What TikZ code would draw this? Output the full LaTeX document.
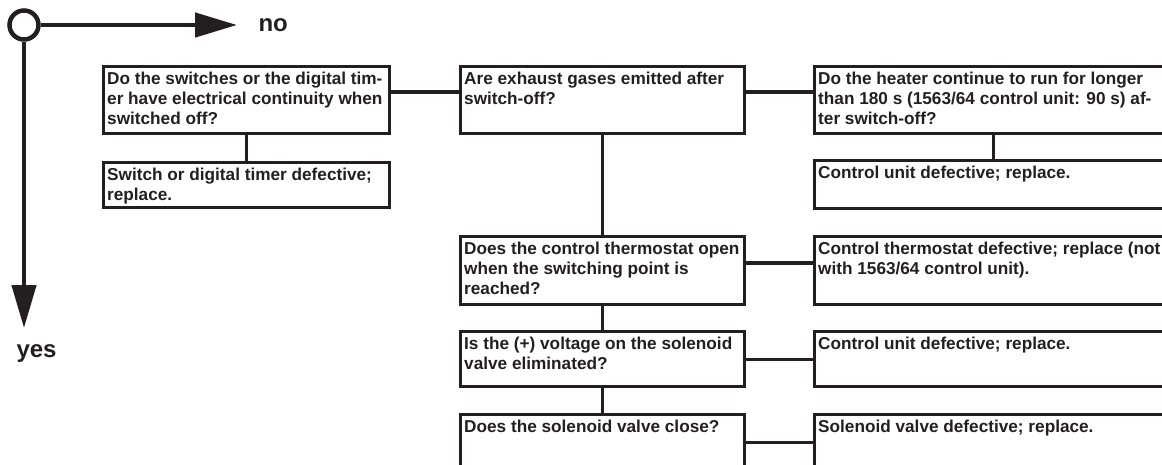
\documentclass[tikz,border=0pt]{standalone}
\usepackage{fontspec}
\setmainfont{Liberation Sans}
\usetikzlibrary{arrows.meta}
\definecolor{ink}{HTML}{231F20}

\begin{document}
\begin{tikzpicture}[x=1pt, y=-1pt, line join=miter,
  frame/.style={draw=ink, line width=3.1pt, anchor=north west, inner sep=0pt},
  label/.style={anchor=north west, inner sep=0pt, align=left, text=ink,
                font=\bfseries\fontsize{17.2}{20}\selectfont},
  link/.style={draw=ink, line width=3.1pt},
  legend/.style={draw=ink, line width=4.5pt},
  legendtext/.style={text=ink, font=\bfseries\fontsize{24}{28}\selectfont}]

\useasboundingbox (0,0) rectangle (1162,464);
\clip (0,0) rectangle (1162,464);

% legend: start circle with "no" to the right and "yes" downwards
\node[circle, draw=ink, line width=4.5pt, minimum size=29pt, inner sep=0pt] (start) at (24,25) {};
\coordinate (notip) at (237,25);
\coordinate (yestip) at (24,328);
\draw[legend, -{Triangle[length=42pt, width=24pt]}] (start.east) -- (notip);
\draw[legend, -{Triangle[length=43pt, width=24pt]}] (start.south) -- (yestip);
\node[legendtext, anchor=west] (no) at (255,25) {no};
\node[legendtext, anchor=north west] (yes) at (13,341) {yes};

% boxes: (left, top), width x height
\newcommand\chartbox[6]{%
  \node[frame, minimum width=#4pt, minimum height=#5pt] (#1) at (#2,#3) {};
  \node[label] (#1t) at ([xshift=5pt, yshift=-7pt]#1.north west) {#6};}

\chartbox{b1}{102}{65}{286}{67}{Do the switches or the digital tim-\\er have electrical continuity when\\switched off?}
\chartbox{b2}{102}{161}{286}{45}{Switch or digital timer defective;\\replace.}
\chartbox{b3}{459}{65}{284}{67}{Are exhaust gases emitted after\\switch-off?}
\chartbox{b4}{813}{65}{358}{67}{Do the heater continue to run for longer\\than 180 s (1563/64 control unit: 90 s) af-\\ter switch-off?}
\chartbox{b5}{813}{159}{358}{48}{Control unit defective; replace.}
\chartbox{b6}{459}{235}{284}{68}{Does the control thermostat open\\when the switching point is\\reached?}
\chartbox{b7}{459}{330}{284}{55}{Is the (+) voltage on the solenoid\\valve eliminated?}
\chartbox{b8}{459}{413}{284}{56}{Does the solenoid valve close?}
\chartbox{b9}{813}{235}{358}{68}{Control thermostat defective; replace (not\\with 1563/64 control unit).}
\chartbox{b10}{813}{330}{358}{55}{Control unit defective; replace.}
\chartbox{b11}{813}{413}{358}{56}{Solenoid valve defective; replace.}

% connectors
\coordinate (row1) at (0,92);
\coordinate (row2) at (0,263);
\draw[link] (b1.east |- row1) -- (b3.west |- row1);
\draw[link] (b3.east |- row1) -- (b4.west |- row1);
\draw[link] (b1.south) -- (b2.north);
\draw[link] (b4.south) -- (b5.north);
\draw[link] (b3.south) -- (b6.north);
\draw[link] (b6.south) -- (b7.north);
\draw[link] (b7.south) -- (b8.north);
\draw[link] (b6.east |- row2) -- (b9.west |- row2);
\draw[link] (b7.east) -- (b10.west);
\draw[link] (b8.east) -- (b11.west);
\end{tikzpicture}
\end{document}
